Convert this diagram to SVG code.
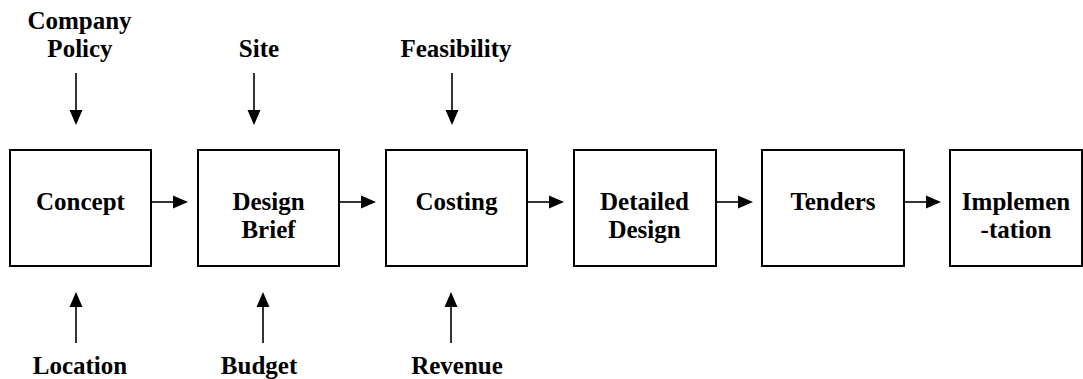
<svg xmlns="http://www.w3.org/2000/svg" width="1083" height="379" viewBox="0 0 1083 379">
<style>
.box{fill:#fff;stroke:#000;stroke-width:2}
.t{font-family:"Liberation Serif","Times New Roman",serif;font-weight:bold;font-size:25px;text-anchor:middle;fill:#000}
.ln{stroke:#000;stroke-width:1.6;fill:none}
.hd{fill:#000}
</style>
<rect width="1083" height="379" fill="#fff"/>
<g id="concept"><rect class="box" x="10" y="150" width="141" height="116"/><text class="t" x="80.5" y="210">Concept</text></g>
<g id="design-brief"><rect class="box" x="198" y="150" width="141" height="116"/><text class="t" x="268.5" y="210">Design</text><text class="t" x="268.5" y="238">Brief</text></g>
<g id="costing"><rect class="box" x="386" y="150" width="141" height="116"/><text class="t" x="456.5" y="210">Costing</text></g>
<g id="detailed-design"><rect class="box" x="574" y="150" width="142" height="116"/><text class="t" x="644.5" y="210">Detailed</text><text class="t" x="644.5" y="238">Design</text></g>
<g id="tenders"><rect class="box" x="762" y="150" width="142" height="116"/><text class="t" x="833" y="210">Tenders</text></g>
<g id="implementation"><rect class="box" x="950" y="150" width="132" height="116"/><text class="t" x="1016" y="210">Implemen</text><text class="t" x="1016" y="238">-tation</text></g>
<g id="company-policy"><text class="t" x="79.5" y="29">Company</text><text class="t" x="80" y="57">Policy</text></g>
<g id="site"><text class="t" x="259" y="57">Site</text></g>
<g id="feasibility"><text class="t" x="456" y="57">Feasibility</text></g>
<g id="location"><text class="t" x="80" y="374">Location</text></g>
<g id="budget"><text class="t" x="259" y="374">Budget</text></g>
<g id="revenue"><text class="t" x="457" y="374">Revenue</text></g>
<g id="connectors">
<line class="ln" x1="152" y1="202" x2="175" y2="202"/><polygon class="hd" points="173,195.5 188,202 173,208.5"/>
<line class="ln" x1="340" y1="202" x2="363" y2="202"/><polygon class="hd" points="361,195.5 376,202 361,208.5"/>
<line class="ln" x1="528" y1="202" x2="551" y2="202"/><polygon class="hd" points="549,195.5 564,202 549,208.5"/>
<line class="ln" x1="717" y1="202" x2="740" y2="202"/><polygon class="hd" points="738,195.5 753,202 738,208.5"/>
<line class="ln" x1="905" y1="202" x2="928" y2="202"/><polygon class="hd" points="926,195.5 941,202 926,208.5"/>
<line class="ln" x1="76" y1="73" x2="76" y2="112"/><polygon class="hd" points="69.5,110 82.5,110 76,125"/>
<line class="ln" x1="254" y1="73" x2="254" y2="112"/><polygon class="hd" points="247.5,110 260.5,110 254,125"/>
<line class="ln" x1="452" y1="73" x2="452" y2="112"/><polygon class="hd" points="445.5,110 458.5,110 452,125"/>
<line class="ln" x1="76" y1="343" x2="76" y2="305"/><polygon class="hd" points="69.5,307 82.5,307 76,292"/>
<line class="ln" x1="263" y1="343" x2="263" y2="305"/><polygon class="hd" points="256.5,307 269.5,307 263,292"/>
<line class="ln" x1="451" y1="343" x2="451" y2="305"/><polygon class="hd" points="444.5,307 457.5,307 451,292"/>
</g>
</svg>
